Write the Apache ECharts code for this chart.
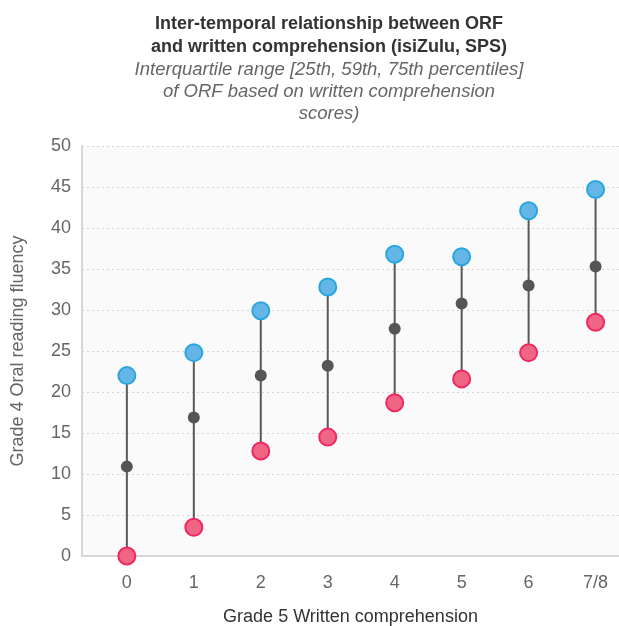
<!DOCTYPE html>
<html><head><meta charset="utf-8">
<script src="https://cdn.jsdelivr.net/npm/echarts@6/dist/echarts.min.js"></script>
<style>html,body{margin:0;padding:0;background:#fff}#c{width:619px;height:626px}</style>
</head><body><div id="c"></div>
<script>
var categories = ['0','1','2','3','4','5','6','7/8'];
var p25 = [0, 3.5, 12.8, 14.5, 18.7, 21.6, 24.8, 28.5];
var p50 = [10.9, 16.9, 22.0, 23.2, 27.7, 30.8, 33.0, 35.3];
var p75 = [22.0, 24.8, 29.9, 32.8, 36.8, 36.5, 42.1, 44.7];
var yTicks = [0,5,10,15,20,25,30,35,40,45,50];

var ff = '"Liberation Sans", Arial, Helvetica, sans-serif';
function pts(arr){ return arr.map(function(v,i){ return [i, v]; }); }
var rangeData = categories.map(function(c,i){ return [i, p25[i], p75[i]]; });

var chart = echarts.init(document.getElementById('c'), null, {renderer:'canvas'});
chart.setOption({
  animation: false,
  backgroundColor: '#ffffff',
  title: {
    text: 'Inter-temporal relationship between ORF\nand written comprehension (isiZulu, SPS)',
    subtext: 'Interquartile range [25th, 59th, 75th percentiles]\nof ORF based on written comprehension\nscores)',
    left: 324, top: 8, textAlign: 'center', itemGap: 0,
    textStyle: {fontFamily: ff, fontSize: 18, fontWeight: 'bold', color: '#333333', lineHeight: 23},
    subtextStyle: {fontFamily: ff, fontSize: 18.5, fontStyle: 'italic', color: '#666666', lineHeight: 22}
  },
  grid: {left: 82, right: 0, top: 146, bottom: 70, show: true, backgroundColor: '#fafafa', borderWidth: 0,
         outerBoundsMode: 'none', containLabel: false},
  xAxis: {
    type: 'value', min: -0.67, max: 7.35,
    name: 'Grade 5 Written comprehension', nameLocation: 'middle', nameGap: 52,
    nameTextStyle: {fontFamily: ff, fontSize: 18, color: '#333333'},
    axisLine: {show: true, onZero: false, lineStyle: {color: '#d8d8d8', width: 2}},
    axisTick: {show: false},
    splitLine: {show: false},
    axisLabel: {
      customValues: categories.map(function(c,i){ return i; }),
      formatter: function(v){ return categories[Math.round(v)]; },
      fontFamily: ff, fontSize: 18, color: '#666666', margin: 18
    }
  },
  yAxis: {
    type: 'value', min: 0, max: 50, interval: 5,
    name: 'Grade 4 Oral reading fluency', nameLocation: 'middle', nameGap: 55, nameRotate: 90,
    nameTextStyle: {fontFamily: ff, fontSize: 18, color: '#666666'},
    axisLine: {show: true, onZero: false, lineStyle: {color: '#d8d8d8', width: 2}},
    axisTick: {show: false},
    splitLine: {show: true, lineStyle: {color: '#d4d4d4', type: [2, 3], width: 1}},
    axisLabel: {
      formatter: function(v){ return yTicks.indexOf(v) >= 0 ? String(v) : ''; },
      fontFamily: ff, fontSize: 18, color: '#666666', margin: 11
    }
  },
  series: [
    {
      type: 'custom', z: 1,
      data: rangeData,
      renderItem: function(params, api){
        var a = api.coord([api.value(0), api.value(1)]);
        var b = api.coord([api.value(0), api.value(2)]);
        return {type: 'line', shape: {x1: a[0], y1: a[1], x2: b[0], y2: b[1]},
                style: {stroke: '#595959', lineWidth: 2}};
      },
      encode: {x: 0, y: [1, 2]}
    },
    {
      type: 'scatter', z: 3, symbol: 'circle', symbolSize: 17,
      data: pts(p75),
      itemStyle: {color: '#64b6e6', borderColor: '#2aa6df', borderWidth: 2, opacity: 1}
    },
    {
      type: 'scatter', z: 3, symbol: 'circle', symbolSize: 17,
      data: pts(p25),
      itemStyle: {color: '#f06584', borderColor: '#ee2860', borderWidth: 2, opacity: 1}
    },
    {
      type: 'scatter', z: 3, symbol: 'circle', symbolSize: 12,
      data: pts(p50),
      itemStyle: {color: '#555555', opacity: 1}
    }
  ]
});
</script></body></html>
